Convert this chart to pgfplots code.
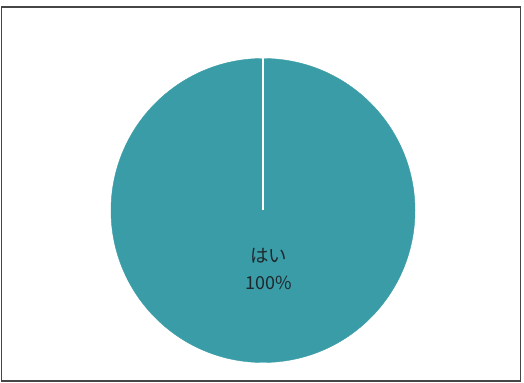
\documentclass[border=0pt]{standalone}
\usepackage{pgfplots}
\pgfplotsset{compat=1.18}
\usepackage{fontspec}
\newfontfamily\cjk{Noto Sans CJK JP}
\definecolor{pie}{RGB}{58,156,166}
\definecolor{frame}{RGB}{70,70,70}
\definecolor{lbl}{RGB}{30,40,45}
\begin{document}
\begin{tikzpicture}
\begin{axis}[
  name=ax,
  scale only axis, width=524bp, height=383bp,
  xmin=0, xmax=524, ymin=0, ymax=383,
  hide axis, clip=false, set layers=standard,
]
% frame
\draw[frame, line width=1.3bp] (axis cs:1.5,2) rectangle (axis cs:520.5,376);
% the single slice: はい = 100%
\addplot[only marks, mark=*, mark size=152bp, color=pie, mark options={draw=pie, fill=pie}, on layer=main] coordinates {(263,172.5)};
% slice boundary at 0 / 360 degrees
\addplot[white, line width=1.6bp, on layer=axis foreground] coordinates {(263,172.5) (263,324.5)};
\begin{pgfonlayer}{axis foreground}
\node[text=lbl, font=\cjk\fontsize{18.5}{21}\selectfont] at (axis cs:268.5,127.5) {はい};
\node[text=lbl, font=\cjk\fontsize{18}{21}\selectfont] at (axis cs:268.5,100) {100\%};
\end{pgfonlayer}
\end{axis}
\pgfresetboundingbox
\path[use as bounding box] (ax.south west) rectangle (ax.north east);
\end{tikzpicture}
\end{document}
